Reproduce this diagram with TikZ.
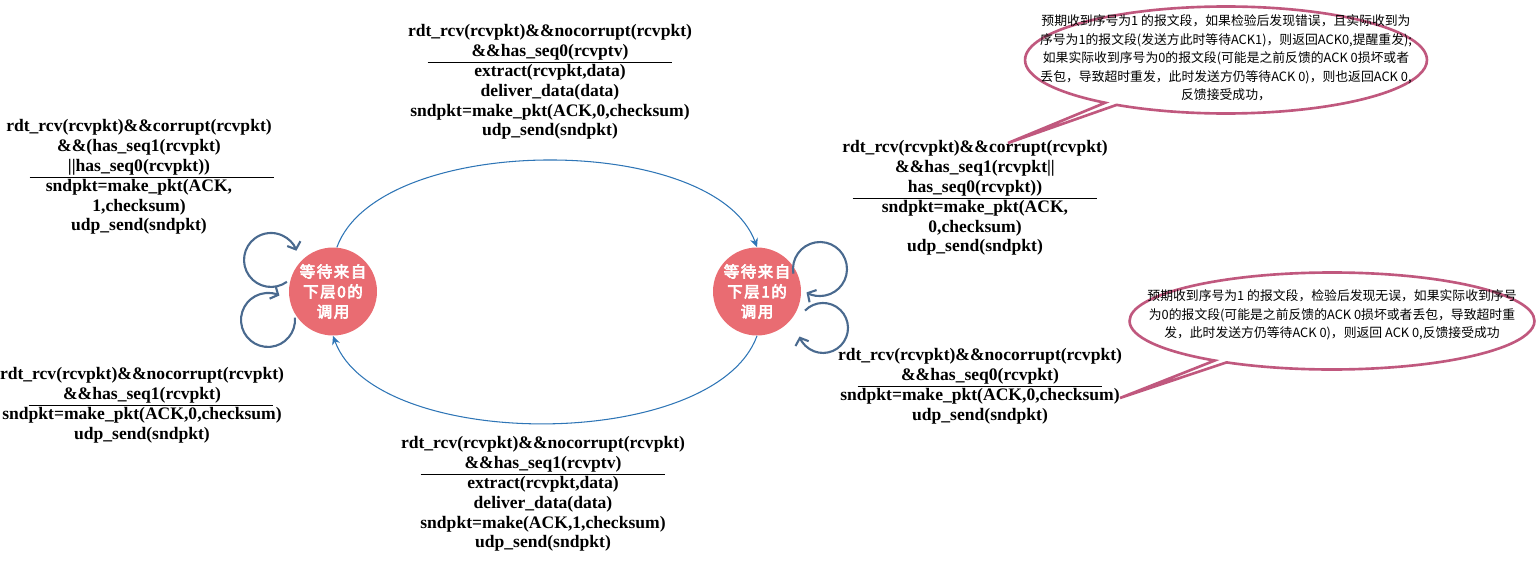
\documentclass[tikz,border=0pt]{standalone}
\usepackage{fontspec}
\setmainfont{Liberation Serif}
\newfontfamily\cjk{Noto Sans CJK SC}
\newfontfamily\cjkbold[FakeBold=4,LetterSpace=10]{Noto Sans CJK SC}
\usetikzlibrary{arrows.meta}
\usetikzlibrary{shapes.callouts}
\definecolor{statered}{RGB}{233,108,114}
\definecolor{arcblue}{RGB}{46,117,182}
\definecolor{loopblue}{RGB}{74,106,143}
\definecolor{notepink}{RGB}{192,88,126}
\newcommand\guardrule[1][0pt]{\\[-7.3pt]\hspace*{#1}\rule{4.9cm}{0.6pt}\\[-4pt]}
\tikzset{
  state/.style= {circle, fill=statered, text=white, minimum size=1.76cm, inner sep=0,
    align=center, font=\cjkbold\fontsize{8.8}{11.4}\selectfont},
  guard/.style= {align=center, inner sep=0, font=\bfseries\fontsize{10}{11.3}\selectfont},
  trans/.style= {arcblue, line width=0.6pt, -{Stealth[length=5pt,width=4.5pt]}},
  selfloop/.style= {loopblue, line width=1.2pt, -{Straight Barb[length=3.5pt,width=8pt]}},
  note/.style= {ellipse callout, draw=notepink, line width=1.5pt, callout pointer arc=4},
  notetext/.style= {align=center, inner sep=0, font=\cjk\fontsize{7.3}{10.6}\selectfont},
}

\begin{document}
\begin{tikzpicture}[x=0.02cm, y=0.02cm]
  \useasboundingbox (0,0) rectangle (1540,-574) ;

  \node [state] (s0) at (333,-291.5) {等待来自\\下层0的\\调用} ;
  \node [state] (s1) at (757,-291.5) {等待来自\\下层1的\\调用} ;

  \node [guard] (t01) at (550,-82) {rdt\_rcv(rcvpkt)\&\&nocorrupt(rcvpkt)\\
    \&\&has\_seq0(rcvptv)\guardrule
    extract(rcvpkt,data)\\ deliver\_data(data)\\
    sndpkt=make\_pkt(ACK,0,checksum)\\ udp\_send(sndpkt)} ;
  \node [guard] (t10) at (543,-494) {rdt\_rcv(rcvpkt)\&\&nocorrupt(rcvpkt)\\
    \&\&has\_seq1(rcvptv)\guardrule
    extract(rcvpkt,data)\\ deliver\_data(data)\\
    sndpkt=make(ACK,1,checksum)\\ udp\_send(sndpkt)} ;
  \node [guard] (l0a) at (139,-177) {rdt\_rcv(rcvpkt)\&\&corrupt(rcvpkt)\\
    \&\&(has\_seq1(rcvpkt)\\ \textbar\textbar has\_seq0(rcvpkt))\guardrule[0.52cm]
    sndpkt=make\_pkt(ACK,\\ 1,checksum)\\ udp\_send(sndpkt)} ;
  \node [guard] (l0b) at (142,-405) {rdt\_rcv(rcvpkt)\&\&nocorrupt(rcvpkt)\\
    \&\&has\_seq1(rcvpkt)\guardrule[0.36cm]
    sndpkt=make\_pkt(ACK,0,checksum)\\ udp\_send(sndpkt)} ;
  \node [guard] (r1a) at (975,-198) {rdt\_rcv(rcvpkt)\&\&corrupt(rcvpkt)\\
    \&\&has\_seq1(rcvpkt\textbar\textbar\\ has\_seq0(rcvpkt))\guardrule
    sndpkt=make\_pkt(ACK,\\ 0,checksum)\\ udp\_send(sndpkt)} ;
  \node [guard] (r1b) at (980,-386) {rdt\_rcv(rcvpkt)\&\&nocorrupt(rcvpkt)\\
    \&\&has\_seq0(rcvpkt)\guardrule
    sndpkt=make\_pkt(ACK,0,checksum)\\ udp\_send(sndpkt)} ;

  % transitions between the two states
  \draw [trans] (s0.85) to [out=70, in=110, looseness=0.75] (s1.north) ;
  \draw [trans] (s1.south) to [out=-110, in=-70, looseness=0.75] (s0.south) ;

  % self loops
  \draw [selfloop] ([shift={(-46.1,9.7)}]s0.center) arc [start angle=-54, end angle=-340, radius=0.54cm] ;
  \draw [selfloop] ([shift={(-38.1,-26.1)}]s0.center) arc [start angle=5, end angle=-295, radius=0.54cm] ;
  \draw [selfloop] ([shift={(36.4,17.8)}]s1.center) arc [start angle=190, end angle=-120, radius=0.54cm] ;
  \draw [selfloop] ([shift={(48,-19.1)}]s1.center) arc [start angle=136, end angle=-160, radius=0.5cm] ;

  % notes
  \coordinate (p1) at (1008,-143) ;
  \coordinate (p2) at (1120,-398) ;
  \node [note, minimum width=8.04cm, minimum height=2.14cm, callout absolute pointer={(p1)}] (n1) at (1226,-60) {} ;
  \node [note, minimum width=8.1cm, minimum height=1.94cm, callout absolute pointer={(p2)}] (n2) at (1332,-321) {} ;
  \node [notetext] (n1t) at (1226,-58) {预期收到序号为1 的报文段，如果检验后发现错误，且实际收到为\\
    序号为1的报文段(发送方此时等待ACK1)，则返回ACK0,提醒重发);\\
    如果实际收到序号为0的报文段(可能是之前反馈的ACK 0损坏或者\\
    丢包，导致超时重发，此时发送方仍等待ACK 0)，则也返回ACK 0,\\
    反馈接受成功，} ;
  \node [notetext] (n2t) at (1332,-315) {预期收到序号为1 的报文段，检验后发现无误，如果实际收到序号\\
    为0的报文段(可能是之前反馈的ACK 0损坏或者丢包，导致超时重\\
    发，此时发送方仍等待ACK 0)，则返回 ACK 0,反馈接受成功} ;
\end{tikzpicture}
\end{document}
